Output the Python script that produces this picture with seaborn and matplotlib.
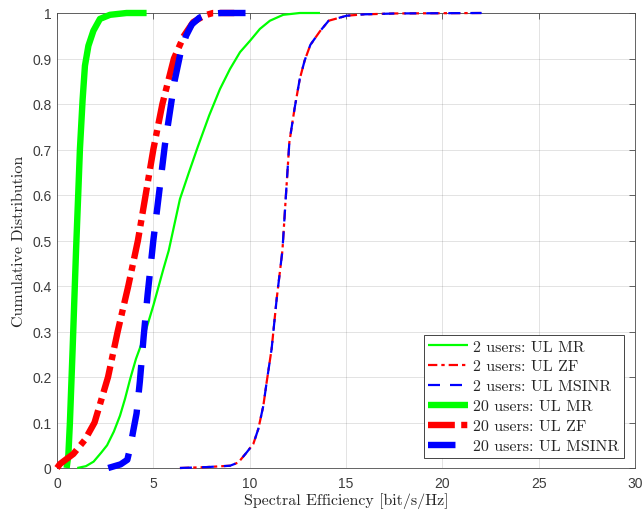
import matplotlib
matplotlib.use("Agg")
import matplotlib.pyplot as plt
import seaborn as sns

# ---------------- data ----------------
# 2 users: UL MR
mr2_x = [1.05, 1.50, 1.90, 2.30, 2.60, 2.95, 3.27, 3.53, 3.80, 4.10, 4.48, 5.00,
         5.52, 5.80, 6.38, 6.85, 7.30, 7.90, 8.46, 8.98, 9.50, 10.02, 10.53,
         11.05, 11.74, 12.60, 13.65]
mr2_y = [0.0, 0.004, 0.014, 0.034, 0.050, 0.080, 0.115, 0.152, 0.196, 0.240, 0.284,
         0.357, 0.437, 0.478, 0.591, 0.650, 0.705, 0.775, 0.833, 0.877, 0.914,
         0.939, 0.965, 0.983, 0.996, 1.0, 1.0]
# 2 users: UL ZF
zf2_x = [6.38, 7.77, 8.98, 9.41, 9.84, 10.19, 10.45, 10.71, 10.88, 11.14, 11.40,
         11.70, 11.88, 12.06, 12.33, 12.60, 12.85, 13.15, 13.65, 14.10, 15.03,
         15.90, 17.60, 22.04]
zf2_y = [0.0, 0.002, 0.005, 0.012, 0.034, 0.053, 0.086, 0.137, 0.188, 0.262, 0.371,
         0.478, 0.598, 0.716, 0.790, 0.855, 0.895, 0.930, 0.960, 0.983, 0.994,
         0.997, 0.999, 1.0]
# 2 users: UL MSINR
msinr2_x = [6.38, 7.77, 8.98, 9.41, 9.84, 10.19, 10.45, 10.71, 10.88, 11.14, 11.40,
            11.70, 11.88, 12.06, 12.33, 12.60, 12.85, 13.15, 13.65, 14.10, 15.03,
            15.90, 17.60, 22.04]
msinr2_y = [0.0, 0.002, 0.005, 0.012, 0.034, 0.053, 0.086, 0.137, 0.188, 0.262, 0.371,
            0.478, 0.598, 0.716, 0.790, 0.855, 0.895, 0.930, 0.960, 0.983, 0.994,
            0.997, 0.999, 1.0]
# 20 users: UL MR
mr20_x = [0.50, 0.59, 0.67, 0.81, 0.99, 1.10, 1.19, 1.33, 1.45, 1.63, 1.89,
          2.23, 2.75, 3.61, 4.65]
mr20_y = [0.0, 0.029, 0.10, 0.26, 0.48, 0.60, 0.701, 0.81, 0.884, 0.928, 0.961,
          0.987, 0.996, 1.0, 1.0]
# 20 users: UL ZF
zf20_x = [0.0, 0.16, 0.85, 1.45, 1.95, 2.65, 3.15, 3.70, 4.20, 4.60, 5.00, 5.47,
          6.07, 6.59, 7.07, 7.68, 8.10, 9.20]
zf20_y = [0.0, 0.009, 0.031, 0.062, 0.10, 0.20, 0.30, 0.40, 0.50, 0.60, 0.70, 0.80,
          0.90, 0.95, 0.98, 0.995, 1.0, 1.0]
# 20 users: UL MSINR
msinr20_x = [2.66, 3.30, 3.65, 3.80, 3.95, 4.13, 4.30, 4.50, 4.70, 4.85, 5.00,
             5.20, 5.40, 5.60, 5.85, 6.10, 6.40, 6.70, 7.00, 7.40, 7.90, 8.50, 10.30]
msinr20_y = [0.0, 0.008, 0.018, 0.045, 0.08, 0.12, 0.19, 0.29, 0.38, 0.44, 0.50,
             0.57, 0.64, 0.71, 0.78, 0.85, 0.91, 0.95, 0.975, 0.99, 0.998, 1.0, 1.0]

labels = ["2 users: UL MR", "2 users: UL ZF", "2 users: UL MSINR",
          "20 users: UL MR", "20 users: UL ZF", "20 users: UL MSINR"]
x_ticks = [0, 5, 10, 15, 20, 25, 30]
y_ticks = [0, 0.1, 0.2, 0.3, 0.4, 0.5, 0.6, 0.7, 0.8, 0.9, 1.0]
y_tick_labels = ["0", "0.1", "0.2", "0.3", "0.4", "0.5", "0.6", "0.7", "0.8", "0.9", "1"]

# ---------------- styling ----------------
sns.set_theme(style="white")
plt.rcParams["font.family"] = ["Liberation Sans", "DejaVu Sans"]
plt.rcParams["axes.unicode_minus"] = False

DARK = "#262626"
TICKTXT = "#3c3c3c"
SERIF = "cmr10"
THIN = 1.6
THICK = 4.6

fig = plt.figure(figsize=(6.44, 5.10), dpi=100)
fig.patch.set_facecolor("white")
ax = fig.add_axes([57 / 644, 41 / 510, 578 / 644, 455 / 510])
ax.set_facecolor("white")

series = [
    (mr2_x, mr2_y, "#00ff00", THIN, "-"),
    (zf2_x, zf2_y, "#ff0000", THIN, (0, (4.2, 1.8, 1.5, 1.8))),
    (msinr2_x, msinr2_y, "#0000ff", THIN, (0, (5.4, 4.5))),
    (mr20_x, mr20_y, "#00ff00", THICK, "-"),
    (zf20_x, zf20_y, "#ff0000", THICK, (0, (4.2, 1.0, 0.95, 1.0))),
    (msinr20_x, msinr20_y, "#0000ff", THICK, (0, (4.3, 2.7))),
]
for (xs, ys, col, lw, ls), lab in zip(series, labels):
    sns.lineplot(x=xs, y=ys, ax=ax, color=col, linewidth=lw, linestyle=ls,
                 label=lab, sort=False, estimator=None, clip_on=False,
                 solid_capstyle="butt", dash_capstyle="butt",
                 solid_joinstyle="round", zorder=3)

ax.set_xlim(0, 30)
ax.set_ylim(0, 1)
ax.set_xticks(x_ticks)
ax.set_xticklabels([str(t) for t in x_ticks])
ax.set_yticks(y_ticks)
ax.set_yticklabels(y_tick_labels)

ax.grid(True, color=DARK, alpha=0.15, linewidth=0.6, zorder=0)
ax.set_axisbelow(True)
for sp in ax.spines.values():
    sp.set_visible(True)
    sp.set_color("#4a4a4a")
    sp.set_linewidth(0.6)

ax.tick_params(axis="both", which="both", direction="in", top=True, right=True,
               length=4.3, width=0.6, color="#4a4a4a", labelcolor=TICKTXT,
               labelsize=10)
ax.tick_params(axis="y", pad=4)
ax.tick_params(axis="x", pad=5.5)

ax.set_xlabel("Spectral Efficiency [bit/s/Hz]", fontfamily=SERIF, fontsize=11.5,
              color=DARK, labelpad=2)
ax.set_ylabel("Cumulative Distribution", fontfamily=SERIF, fontsize=11.5,
              color=DARK, labelpad=4.5)

leg = ax.legend(loc="lower right", bbox_to_anchor=(0.981, 0.022), borderaxespad=0,
                prop={"family": SERIF, "size": 11.5}, handlelength=2.5,
                handletextpad=0.3, labelspacing=0.36, borderpad=0.3,
                fancybox=False, framealpha=1, edgecolor=DARK)
leg.get_frame().set_linewidth(0.6)
for t in leg.get_texts():
    t.set_color(DARK)

fig.savefig("out.png", dpi=100, facecolor="white")
